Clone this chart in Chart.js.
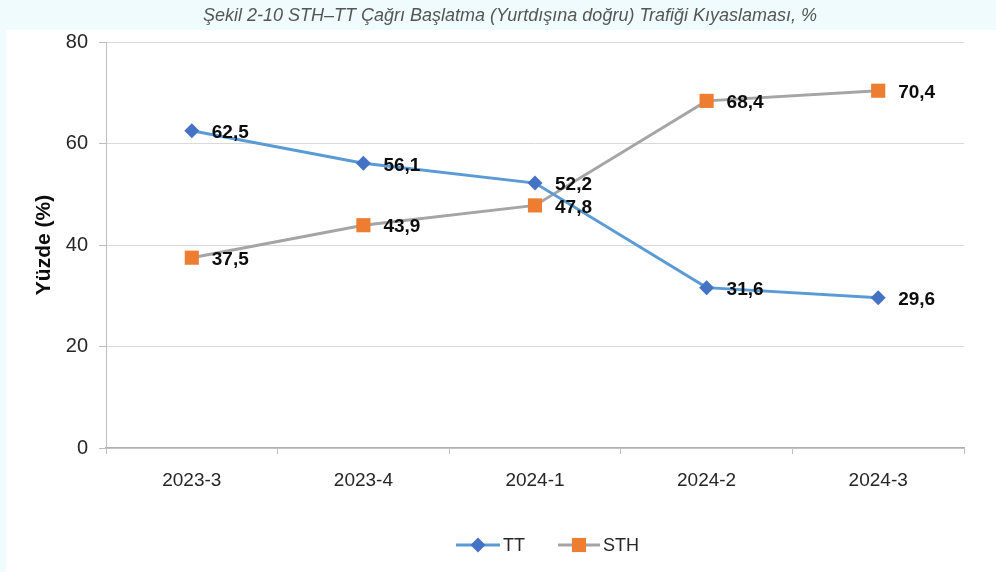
<!DOCTYPE html>
<html>
<head>
<meta charset="utf-8">
<script src="https://cdn.jsdelivr.net/npm/chart.js@4.4.1/dist/chart.umd.min.js"></script>
<style>
  html, body { margin: 0; padding: 0; background: #effbfc; }
  #wrap { width: 996px; height: 572px; position: relative; }
  canvas { display: block; }
</style>
</head>
<body>
<div id="wrap"><canvas id="c" width="996" height="572"></canvas></div>
<script>
const chartTitle = 'Şekil 2-10 STH–TT Çağrı Başlatma (Yurtdışına doğru) Trafiği Kıyaslaması, %';
const categories = ['2023-3', '2023-4', '2024-1', '2024-2', '2024-3'];
const ttValues = [62.5, 56.1, 52.2, 31.6, 29.6];
const sthValues = [37.5, 43.9, 47.8, 68.4, 70.4];
const seriesNames = ['TT', 'STH'];
const yTitle = 'Yüzde (%)';
const yMin = 0, yMax = 80, yStep = 20;

const FONT = "'Liberation Sans', Arial, sans-serif";
const fmt = v => v.toFixed(1).replace('.', ',');

const bgPlugin = {
  id: 'bg',
  beforeDraw(chart) {
    const ctx = chart.ctx;
    ctx.save();
    ctx.fillStyle = '#effbfc';
    ctx.fillRect(0, 0, chart.width, chart.height);
    ctx.fillStyle = '#ffffff';
    ctx.fillRect(6, 30, chart.width - 6, chart.height - 30);
    ctx.fillStyle = '#555555';
    ctx.font = 'italic 18px ' + FONT;
    ctx.textAlign = 'center';
    ctx.textBaseline = 'middle';
    ctx.fillText(chartTitle, 510, 16);
    ctx.restore();
  }
};

const labelPlugin = {
  id: 'vlabels',
  afterDatasetsDraw(chart) {
    const ctx = chart.ctx;
    ctx.save();
    ctx.font = 'bold 19px ' + FONT;
    ctx.fillStyle = '#0d0d0d';
    ctx.textAlign = 'left';
    ctx.textBaseline = 'middle';
    chart.data.datasets.forEach((ds, di) => {
      const meta = chart.getDatasetMeta(di);
      meta.data.forEach((pt, i) => {
        ctx.fillText(fmt(ds.data[i]), pt.x + 20, pt.y + 2);
      });
    });
    ctx.restore();
  }
};

const legendPlugin = {
  id: 'customLegend',
  afterDraw(chart) {
    const ctx = chart.ctx;
    const y = 545;
    const items = [
      { x0: 456, x1: 500, mx: 478, ds: chart.data.datasets[0] },
      { x0: 558, x1: 600, mx: 579, ds: chart.data.datasets[1] }
    ];
    ctx.save();
    items.forEach(it => {
      ctx.strokeStyle = it.ds.borderColor;
      ctx.lineWidth = 3;
      ctx.beginPath();
      ctx.moveTo(it.x0, y);
      ctx.lineTo(it.x1, y);
      ctx.stroke();
      ctx.fillStyle = it.ds.pointBackgroundColor;
      ctx.beginPath();
      if (it.ds.pointStyle === 'rectRot') {
        const r = it.ds.pointRadius;
        ctx.moveTo(it.mx, y - r); ctx.lineTo(it.mx + r, y); ctx.lineTo(it.mx, y + r); ctx.lineTo(it.mx - r, y);
        ctx.closePath(); ctx.fill();
      } else {
        const s = it.ds.pointRadius * Math.SQRT1_2;
        ctx.fillRect(it.mx - s, y - s, 2 * s, 2 * s);
      }
      ctx.fillStyle = '#262626';
      ctx.font = '18px ' + FONT;
      ctx.textAlign = 'left';
      ctx.textBaseline = 'middle';
      ctx.fillText(it.ds.label, it.x1 + 3, y + 1);
    });
    ctx.restore();
  }
};

new Chart(document.getElementById('c'), {
  type: 'line',
  data: {
    labels: categories,
    datasets: [
      {
        label: seriesNames[0],
        data: ttValues,
        borderColor: '#5b9bd5',
        borderWidth: 3,
        pointStyle: 'rectRot',
        pointRadius: 7.5,
        pointBackgroundColor: '#4472c4',
        pointBorderColor: '#4472c4',
        pointBorderWidth: 0,
        tension: 0
      },
      {
        label: seriesNames[1],
        data: sthValues,
        borderColor: '#a5a5a5',
        borderWidth: 3,
        pointStyle: 'rect',
        pointRadius: 10,
        pointBackgroundColor: '#ed7d31',
        pointBorderColor: '#ed7d31',
        pointBorderWidth: 0,
        tension: 0
      }
    ]
  },
  options: {
    responsive: false,
    devicePixelRatio: 1,
    animation: false,
    layout: { padding: { left: 0, right: 32, top: 42, bottom: 0 } },
    plugins: {
      legend: { display: false },
      title: { display: false },
      tooltip: { enabled: false }
    },
    scales: {
      x: {
        offset: true,
        grid: {
          offset: true,
          drawOnChartArea: false,
          drawTicks: true,
          tickLength: 6,
          color: '#bfbfbf'
        },
        border: { color: '#b0b0b0', width: 1.5 },
        ticks: {
          padding: 15,
          color: '#262626',
          font: { family: FONT, size: 19 }
        },
        afterFit(scale) { scale.height = 124; }
      },
      y: {
        min: yMin,
        max: yMax,
        ticks: {
          stepSize: yStep,
          padding: 11,
          color: '#262626',
          font: { family: FONT, size: 20 }
        },
        grid: {
          color: '#d9d9d9',
          tickColor: '#bfbfbf',
          tickLength: 7
        },
        border: { color: '#bfbfbf', width: 1 },
        title: {
          display: true,
          text: yTitle,
          color: '#0d0d0d',
          font: { family: FONT, size: 21, weight: 'bold' },
          padding: { top: 32, bottom: 0 }
        },
        afterFit(scale) { scale.width = 106; }
      }
    }
  },
  plugins: [bgPlugin, labelPlugin, legendPlugin]
});
</script>
</body>
</html>
